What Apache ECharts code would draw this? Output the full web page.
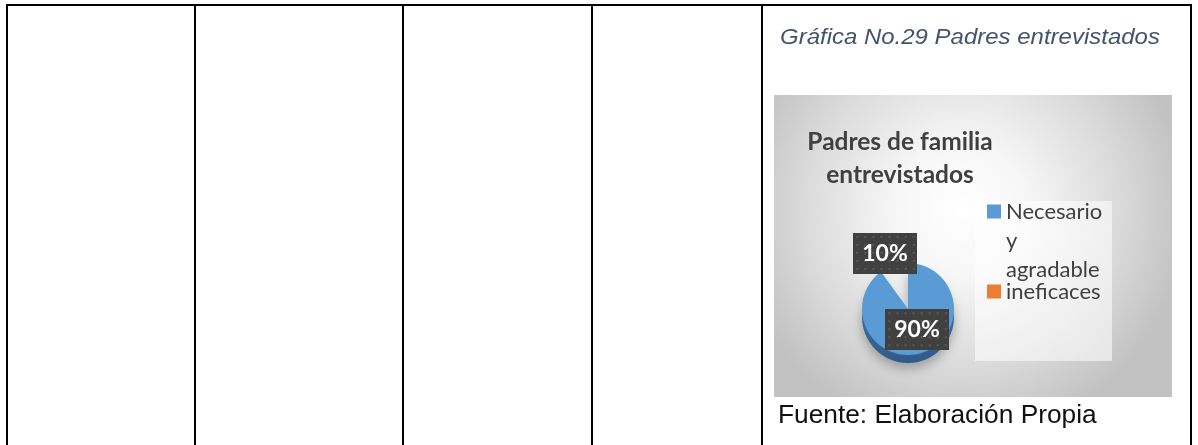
<!DOCTYPE html>
<html>
<head>
<meta charset="utf-8">
<script src="https://cdn.jsdelivr.net/npm/echarts@6/dist/echarts.min.js"></script>
<style>
    html, body { margin: 0; padding: 0; background: #fff; }
    #main { width: 1198px; height: 445px; }
</style>
</head>
<body>
<div id="main"></div>
<script>
var categories = ['Necesario y agradable', 'ineficaces'];
var values = [90, 10];
var legendColors = ['#5B9BD5', '#ED7D31'];
var chartTitle = 'Padres de familia\nentrevistados';
var caption = 'Gráfica No.29 Padres entrevistados';
var source = 'Fuente: Elaboración Propia';

// dotted dark box behind data labels
var dots = document.createElement('canvas');
dots.width = 63; dots.height = 41;
var ctx = dots.getContext('2d');
ctx.fillStyle = '#404040';
ctx.fillRect(0, 0, 63, 41);
ctx.fillStyle = '#5a5a5a';
for (var dx = 3; dx < 63; dx += 8) {
    for (var dy = 3; dy < 41; dy += 8) ctx.fillRect(dx, dy, 2, 2);
}

var myChart = echarts.init(document.getElementById('main'));

var faceData = categories.map(function (name, i) {
    return {
        name: name,
        value: values[i],
        itemStyle: { color: i === 0 ? '#5B9BD5' : 'rgba(0,0,0,0)' }
    };
});
var sideData = categories.map(function (name, i) {
    return {
        name: name,
        value: values[i],
        itemStyle: {
            color: i === 0 ? new echarts.graphic.LinearGradient(0, 0, 0, 1, [
                { offset: 0, color: '#4a80b8' },
                { offset: 1, color: '#2f5b88' }
            ]) : 'rgba(0,0,0,0)'
        }
    };
});

var vline = function (x) {
    return { type: 'line', shape: { x1: x, y1: 4, x2: x, y2: 445 }, style: { stroke: '#000', lineWidth: 2 } };
};

var option = {
    animation: false,
    title: {
        text: chartTitle,
        left: 900,
        top: 126,
        padding: 0,
        textAlign: 'center',
        textStyle: { fontFamily: 'Lato', fontWeight: 'bold', fontSize: 24.5, lineHeight: 33, color: '#404040' }
    },
    legend: {
        orient: 'vertical',
        left: 987,
        top: 139,
        padding: 0,
        itemWidth: 14,
        itemHeight: 14,
        itemGap: -7,
        icon: 'rect',
        selectedMode: false,
        // first entry wraps over three lines with the marker beside the first one
        formatter: function (name) {
            var parts = name.split(' ');
            var pad = parts.length > 1 ? '\n\n' : '';
            return pad + parts.join('\n');
        },
        textStyle: { fontFamily: 'Lato', fontSize: 22, lineHeight: 29, color: '#404040' },
        data: [
            { name: categories[0], itemStyle: { color: legendColors[0] } },
            { name: categories[1], itemStyle: { color: legendColors[1] } }
        ]
    },
    graphic: [
        {
            type: 'rect', z: -10,
            shape: { x: 774, y: 95, width: 398, height: 302 },
            style: {
                fill: new echarts.graphic.RadialGradient(0.47, 0.38, 0.75, [
                    { offset: 0, color: '#ffffff' },
                    { offset: 0.3, color: '#f6f6f6' },
                    { offset: 0.7, color: '#dadada' },
                    { offset: 1, color: '#c2c2c2' }
                ])
            }
        },
        {
            type: 'rect', z: -9,
            shape: { x: 975, y: 201, width: 137, height: 160 },
            style: { fill: 'rgba(255,255,255,0.55)' }
        },
        { type: 'line', shape: { x1: 6, y1: 5, x2: 1192, y2: 5 }, style: { stroke: '#000', lineWidth: 2 } },
        vline(7), vline(195), vline(403), vline(592), vline(762), vline(1191),
        {
            type: 'text', x: 780, y: 38, scaleX: 1.09,
            style: {
                text: caption, x: 0, y: 0, verticalAlign: 'middle',
                font: 'italic 22px "Liberation Sans"', fill: '#44546A'
            }
        },
        {
            type: 'text', x: 778, y: 416,
            style: {
                text: source, x: 0, y: 0, verticalAlign: 'middle',
                font: '26.3px "Liberation Sans"', fill: '#111'
            }
        }
    ],
    series: [
        {
            name: 'lado',
            type: 'pie',
            silent: true,
            center: [908, 317],
            radius: 46,
            startAngle: 90,
            label: { show: false },
            labelLine: { show: false },
            emphasis: { disabled: true },
            itemStyle: { shadowBlur: 12, shadowColor: 'rgba(0,0,0,0.3)', shadowOffsetY: 5 },
            data: sideData
        },
        {
            name: 'Padres de familia entrevistados',
            type: 'pie',
            center: [908, 309],
            radius: 46,
            startAngle: 90,
            avoidLabelOverlap: false,
            emphasis: { disabled: true },
            label: {
                show: true,
                position: 'inside',
                formatter: '{d}%',
                fontFamily: 'Lato',
                fontWeight: 'bold',
                fontSize: 23,
                lineHeight: 23,
                color: '#fff',
                padding: [9, 9, 9, 9],
                backgroundColor: { image: dots }
            },
            labelLayout: function (p) {
                return p.dataIndex === 1 ? { dx: -15, dy: -31 } : { dx: 1, dy: -4 };
            },
            labelLine: { show: false },
            data: faceData
        }
    ]
};
myChart.setOption(option);
</script>
</body>
</html>
